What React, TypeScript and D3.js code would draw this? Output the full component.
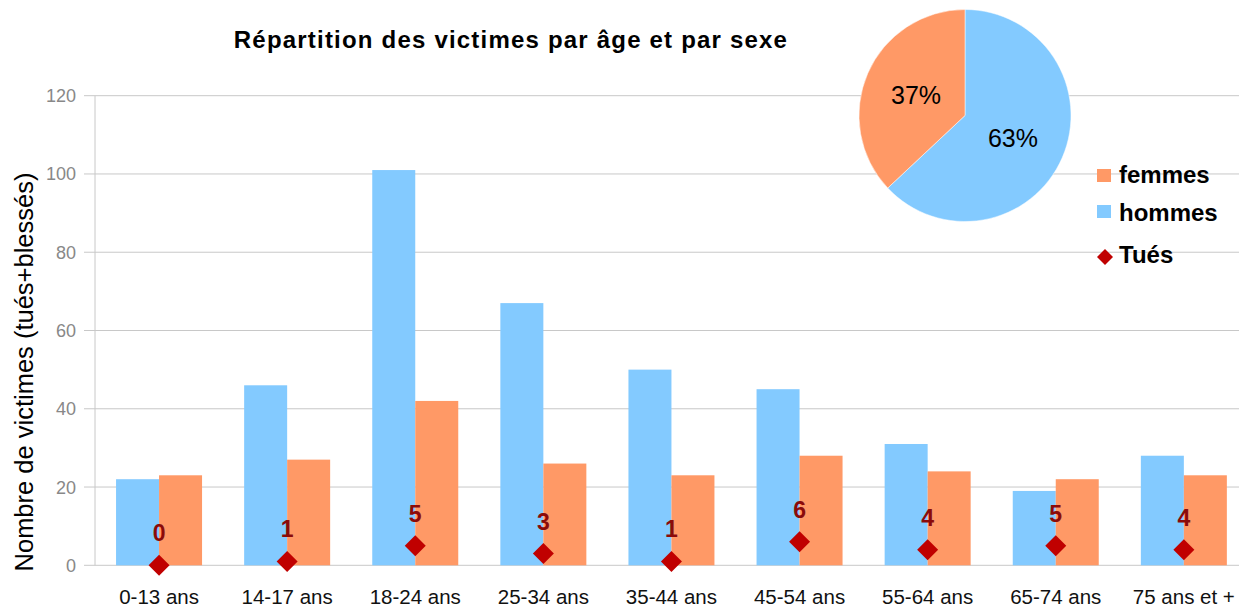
import React from "react";
import * as d3 from "d3";

const categories = ["0-13 ans", "14-17 ans", "18-24 ans", "25-34 ans", "35-44 ans", "45-54 ans", "55-64 ans", "65-74 ans", "75 ans et +"];
const hommes = [22, 46, 101, 67, 50, 45, 31, 19, 28];
const femmes = [23, 27, 42, 26, 23, 28, 24, 22, 23];
const tues = [0, 1, 5, 3, 1, 6, 4, 5, 4];
const yTicks = [0, 20, 40, 60, 80, 100, 120];
const pieLabels = ["hommes", "femmes"];
const pieValues = [63, 37];

const BLUE = "#83caff";
const ORANGE = "#ff9966";
const RED = "#c00000";
const DARKRED = "#8b0a0a";
const FONT = "'Liberation Sans', Arial, sans-serif";

export default function App() {
  const W = 1239, H = 609;
  const left = 95, top = 95.7, bottom = 565.3;
  const band = 128.1;
  const x = d3.scaleBand<string>().domain(categories).range([left, left + band * categories.length]).paddingInner(0).paddingOuter(0);
  const y = d3.scaleLinear().domain([0, 120]).range([bottom, top]);
  const barW = 43;

  const pie = d3.pie<number>().sort(null).startAngle(0).endAngle(2 * Math.PI)(pieValues);
  const arc = d3.arc<d3.PieArcDatum<number>>().innerRadius(0).outerRadius(106);
  const pieColors = [BLUE, ORANGE];
  const labelPos = [[48, 31], [-49, -11.5]];

  return (
    <svg width={W} height={H} style={{ position: "absolute", left: 0, top: 0, background: "#fff" }} fontFamily={FONT}>
      <rect width={W} height={H} fill="#fff" />
      {yTicks.map((t) => (
        <g key={t}>
          <line x1={84} x2={1240} y1={y(t)} y2={y(t)} stroke="#c8c8c8" strokeWidth={1} />
          <text x={76} y={y(t) + 6.5} textAnchor="end" fontSize={18} fill="#888">{t}</text>
        </g>
      ))}
      <line x1={left} x2={left} y1={top} y2={bottom} stroke="#c8c8c8" strokeWidth={1} />
      {categories.map((c, i) => {
        const cx = x(c)! + x.bandwidth() / 2;
        return (
          <g key={c}>
            <rect x={cx - barW} y={y(hommes[i])} width={barW} height={bottom - y(hommes[i])} fill={BLUE} />
            <rect x={cx} y={y(femmes[i])} width={barW} height={bottom - y(femmes[i])} fill={ORANGE} />
            <text x={cx} y={604} textAnchor="middle" fontSize={20.5} fill="#111">{c}</text>
          </g>
        );
      })}
      {categories.map((c, i) => {
        const cx = x(c)! + x.bandwidth() / 2;
        const cy = y(tues[i]);
        return (
          <g key={"t" + c}>
            <path d={`M${cx},${cy - 10.5}L${cx + 10.5},${cy}L${cx},${cy + 10.5}L${cx - 10.5},${cy}Z`} fill={RED} />
            <text x={cx} y={cy - 24} textAnchor="middle" fontSize={23} fontWeight="bold" fill={DARKRED}>{tues[i]}</text>
          </g>
        );
      })}
      <text x={511} y={48} textAnchor="middle" fontSize={24} fontWeight="bold" letterSpacing={1.2} fill="#000">Répartition des victimes par âge et par sexe</text>
      <text transform={`translate(33,${372}) rotate(-90)`} textAnchor="middle" fontSize={25.5} fill="#000">Nombre de victimes (tués+blessés)</text>
      <g transform="translate(965,115.5)">
        {pie.map((p, i) => (
          <path key={pieLabels[i]} d={arc(p)!} fill={pieColors[i]} stroke="#fff" strokeWidth={0.5} />
        ))}
        {pie.map((p, i) => (
          <text key={"l" + i} x={labelPos[i][0]} y={labelPos[i][1]} textAnchor="middle" fontSize={25} fill="#000">{p.data}%</text>
        ))}
      </g>
      <rect x={1097} y={169} width={14} height={13} fill={ORANGE} />
      <text x={1119} y={183} fontSize={24} fontWeight="bold" fill="#000">femmes</text>
      <rect x={1097} y={205} width={14} height={13} fill={BLUE} />
      <text x={1119} y={220.5} fontSize={24} fontWeight="bold" fill="#000">hommes</text>
      <path d="M1105,249L1113,257L1105,265L1097,257Z" fill={RED} />
      <text x={1119} y={263} fontSize={24} fontWeight="bold" fill="#000">Tués</text>
    </svg>
  );
}
